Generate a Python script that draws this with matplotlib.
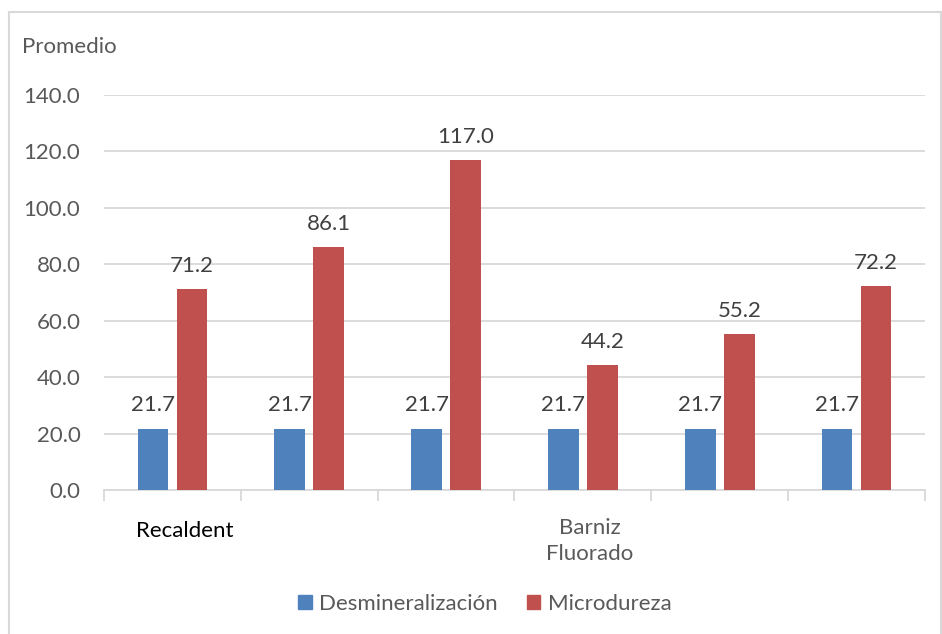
import matplotlib
matplotlib.use("Agg")
import matplotlib.pyplot as plt
import numpy as np
from matplotlib.lines import Line2D
from matplotlib.patches import Patch

categories = ["Recaldent", "", "", "Barniz\nFluorado", "", ""]
desmineralizacion = [21.7, 21.7, 21.7, 21.7, 21.7, 21.7]
microdureza = [71.2, 86.1, 117.0, 44.2, 55.2, 72.2]
series_names = ["Desmineralización", "Microdureza"]
yticks = [0, 20, 40, 60, 80, 100, 120, 140]

BLUE = "#4F81BD"
RED = "#C0504D"
GREY_TXT = "#595959"
GRID = "#D9D9D9"
FONT = "Lato"
FS = 16

W, H = 942, 634
fig = plt.figure(figsize=(W / 100, H / 100), dpi=100)
ax = fig.add_axes([104 / W, (H - 490) / H, (925 - 104) / W, (490 - 95) / H])

x = np.arange(len(categories))
bw = 0.223
off = 0.1425
b1 = ax.bar(x - off, desmineralizacion, bw, color=BLUE, zorder=3)
b2 = ax.bar(x + off, microdureza, bw, color=RED, zorder=3)

for bars, vals in ((b1, desmineralizacion), (b2, microdureza)):
    for r, v in zip(bars, vals):
        ax.annotate(f"{v:.1f}", (r.get_x() + r.get_width() / 2, v),
                    xytext=(0, 12.5), textcoords="offset points",
                    ha="center", va="baseline", fontsize=FS, family=FONT,
                    color="#404040")

ax.set_xlim(-0.5, len(categories) - 0.5)
ax.set_ylim(0, 140)
ax.set_yticks(yticks)
ax.set_yticklabels([f"{v:.1f}" for v in yticks], fontsize=FS, family=FONT,
                   color=GREY_TXT)
ax.yaxis.grid(True, color=GRID, linewidth=1.3, zorder=0)
ax.tick_params(axis="y", length=0, pad=17)
ax.set_xticks(np.arange(-0.5, len(categories), 1.0))
ax.set_xticklabels([])
ax.tick_params(axis="x", length=8, width=1.3, color=GRID)
for s in ("top", "right", "left"):
    ax.spines[s].set_visible(False)
ax.spines["bottom"].set_color(GRID)
ax.spines["bottom"].set_linewidth(1.3)

# category labels
ax.text(0.09, -14.5, categories[0], ha="center", va="center", fontsize=FS,
        family=FONT, color="black", transform=ax.transData, clip_on=False)
ax.text(3.05, -18.0, categories[3], ha="center", va="center", fontsize=FS,
        family=FONT, color=GREY_TXT, linespacing=1.35, transform=ax.transData,
        clip_on=False)

# axis title
fig.text(22 / W, 1 - 47 / H, "Promedio", ha="left", va="center", fontsize=FS,
         family=FONT, color=GREY_TXT)

# legend
handles = [Patch(color=BLUE), Patch(color=RED)]
fig.legend(handles, series_names, loc="center", bbox_to_anchor=(485 / W, 1 - 604 / H),
           ncol=2, frameon=False, prop={"family": FONT, "size": FS},
           labelcolor=GREY_TXT, handlelength=0.6, handleheight=0.6,
           handletextpad=0.35, columnspacing=1.3)

# chart border
fig.add_artist(Line2D([8.5 / W, 8.5 / W], [0, 1 - 12 / H], color=GRID, lw=1.5))
fig.add_artist(Line2D([8.5 / W, 1], [1 - 12 / H, 1 - 12 / H], color=GRID, lw=1.5))
fig.add_artist(Line2D([941 / W, 941 / W], [0, 1 - 12 / H], color=GRID, lw=1.5))

fig.savefig("out.png", dpi=100, facecolor="white")
